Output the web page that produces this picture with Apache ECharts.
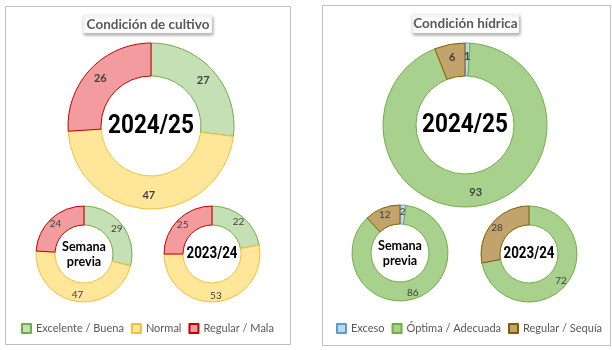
<!DOCTYPE html>
<html>
<head>
<meta charset="utf-8">
<script src="https://cdn.jsdelivr.net/npm/echarts@6/dist/echarts.min.js"></script>
<style>html,body{margin:0;padding:0;background:#fff}#c{width:612px;height:350px}</style>
</head>
<body>
<div id="c"></div>
<script>
// ---- Data ----
const cultivoCats = ['Excelente / Buena', 'Normal', 'Regular / Mala'];
const cultivo2425 = [27, 47, 26];
const cultivoPrev = [29, 47, 24];
const cultivo2324 = [22, 53, 25];

const hidricaCats = ['Exceso', 'Óptima / Adecuada', 'Regular / Sequía'];
const hidrica2425 = [1, 93, 6];
const hidricaPrev = [2, 86, 12];
const hidrica2324 = [0, 72, 28];

const titles = ['Condición de cultivo', 'Condición hídrica'];
const centerLabels = ['2024/25', 'Semana\nprevia', '2023/24'];

// ---- Styles ----
const cultivoFill = ['#c5e0b4', '#ffe699', '#f29c9f'];
const cultivoLine = ['#70ad47', '#f2c037', '#c00000'];
const hidricaFill = ['#bdd7ee', '#a9d18e', '#c2a36c'];
const hidricaLine = ['#5b9bd5', '#70ad47', '#7f6000'];

function mkData(cats, vals, fill, line) {
  const out = [];
  cats.forEach((c, i) => {
    if (vals[i] > 0) out.push({name: c, value: vals[i], itemStyle: {color: fill[i], borderColor: line[i], borderWidth: 1}});
  });
  return out;
}

function mkPie(center, radius, data, big) {
  return {
    type: 'pie', center: center, radius: radius, startAngle: 90, clockwise: true,
    avoidLabelOverlap: false, animation: false, silent: true,
    label: {show: true, position: 'inside', formatter: p => String(p.value),
      color: '#404040', fontFamily: 'Lato', fontSize: big ? 11 : 10, fontWeight: big ? 'bold' : 'normal'},
    labelLine: {show: false},
    emphasis: {disabled: true},
    data: data
  };
}

const centers = {
  L: [[151, 126], [84, 254], [212, 254]],
  R: [[465, 125], [400, 253], [529, 254]]
};
const bigR = [50, 83];
const smallR = [29, 48];

const series = [
  mkPie(centers.L[0], bigR, mkData(cultivoCats, cultivo2425, cultivoFill, cultivoLine), true),
  mkPie(centers.L[1], smallR, mkData(cultivoCats, cultivoPrev, cultivoFill, cultivoLine), false),
  mkPie(centers.L[2], smallR, mkData(cultivoCats, cultivo2324, cultivoFill, cultivoLine), false),
  mkPie(centers.R[0], [49, 82], mkData(hidricaCats, hidrica2425, hidricaFill, hidricaLine), true),
  mkPie(centers.R[1], smallR, mkData(hidricaCats, hidricaPrev, hidricaFill, hidricaLine), false),
  mkPie(centers.R[2], smallR, mkData(hidricaCats, hidrica2324, hidricaFill, hidricaLine), false)
];

const mctx = document.createElement('canvas').getContext('2d');
function measure(font, txt) { mctx.font = font; return mctx.measureText(txt).width; }

function centerText(c, txt, kind) {
  let font, target, lh;
  if (kind === 'big') { font = 'bold 26px Roboto'; target = 86; }
  else if (kind === 'small') { font = 'bold 16px Roboto'; target = 51; }
  else { font = 'bold 14px Lato'; target = 44; lh = 15; }
  const w = measure(font, kind === 'prev' ? 'Semana' : txt);
  const sx = target / w;
  return {
    type: 'text', x: c[0], y: c[1], scaleX: sx, silent: true,
    style: {
      text: txt, x: 0, y: 0, align: 'center', verticalAlign: 'middle',
      fill: '#000', font: font, lineHeight: lh
    }
  };
}

const graphic = [
  {type: 'rect', shape: {x: 5.5, y: 6.5, width: 285, height: 338}, style: {fill: 'none', stroke: '#bfbfbf', lineWidth: 1}, silent: true},
  {type: 'rect', shape: {x: 322.5, y: 5.5, width: 288, height: 340}, style: {fill: 'none', stroke: '#bfbfbf', lineWidth: 1}, silent: true},
  {type: 'rect', shape: {x: 83, y: 15, width: 129, height: 18}, style: {fill: '#fff', stroke: '#e6e6e6', lineWidth: 0.5, shadowBlur: 3, shadowOffsetX: 1, shadowOffsetY: 2, shadowColor: 'rgba(0,0,0,0.35)'}, silent: true},
  {type: 'rect', shape: {x: 412, y: 14, width: 107, height: 19}, style: {fill: '#fff', stroke: '#e6e6e6', lineWidth: 0.5, shadowBlur: 3, shadowOffsetX: 1, shadowOffsetY: 2, shadowColor: 'rgba(0,0,0,0.35)'}, silent: true},
  {type: 'text', x: 148, y: 24.5, silent: true, style: {text: titles[0], align: 'center', verticalAlign: 'middle', fill: '#595959', font: 'bold 13.5px Lato'}},
  {type: 'text', x: 465.5, y: 23.5, silent: true, style: {text: titles[1], align: 'center', verticalAlign: 'middle', fill: '#595959', font: 'bold 13.5px Lato'}},
  centerText(centers.L[0], centerLabels[0], 'big'),
  centerText(centers.L[1], centerLabels[1], 'prev'),
  centerText(centers.L[2], centerLabels[2], 'small'),
  centerText(centers.R[0], centerLabels[0], 'big'),
  centerText(centers.R[1], centerLabels[1], 'prev'),
  centerText(centers.R[2], centerLabels[2], 'small')
];

const legendBase = {
  orient: 'horizontal', top: 323, padding: 0, itemWidth: 9, itemHeight: 9, itemGap: 7, width: 300,
  icon: 'rect', selectedMode: false,
  textStyle: {color: '#595959', fontFamily: 'Lato', fontSize: 11}
};

const chart = echarts.init(document.getElementById('c'), null, {renderer: 'canvas'});
chart.setOption({
  animation: false,
  legend: [
    Object.assign({}, legendBase, {left: 21, data: cultivoCats}),
    Object.assign({}, legendBase, {left: 336, data: hidricaCats})
  ],
  series: series,
  graphic: graphic
});
</script>
</body>
</html>
